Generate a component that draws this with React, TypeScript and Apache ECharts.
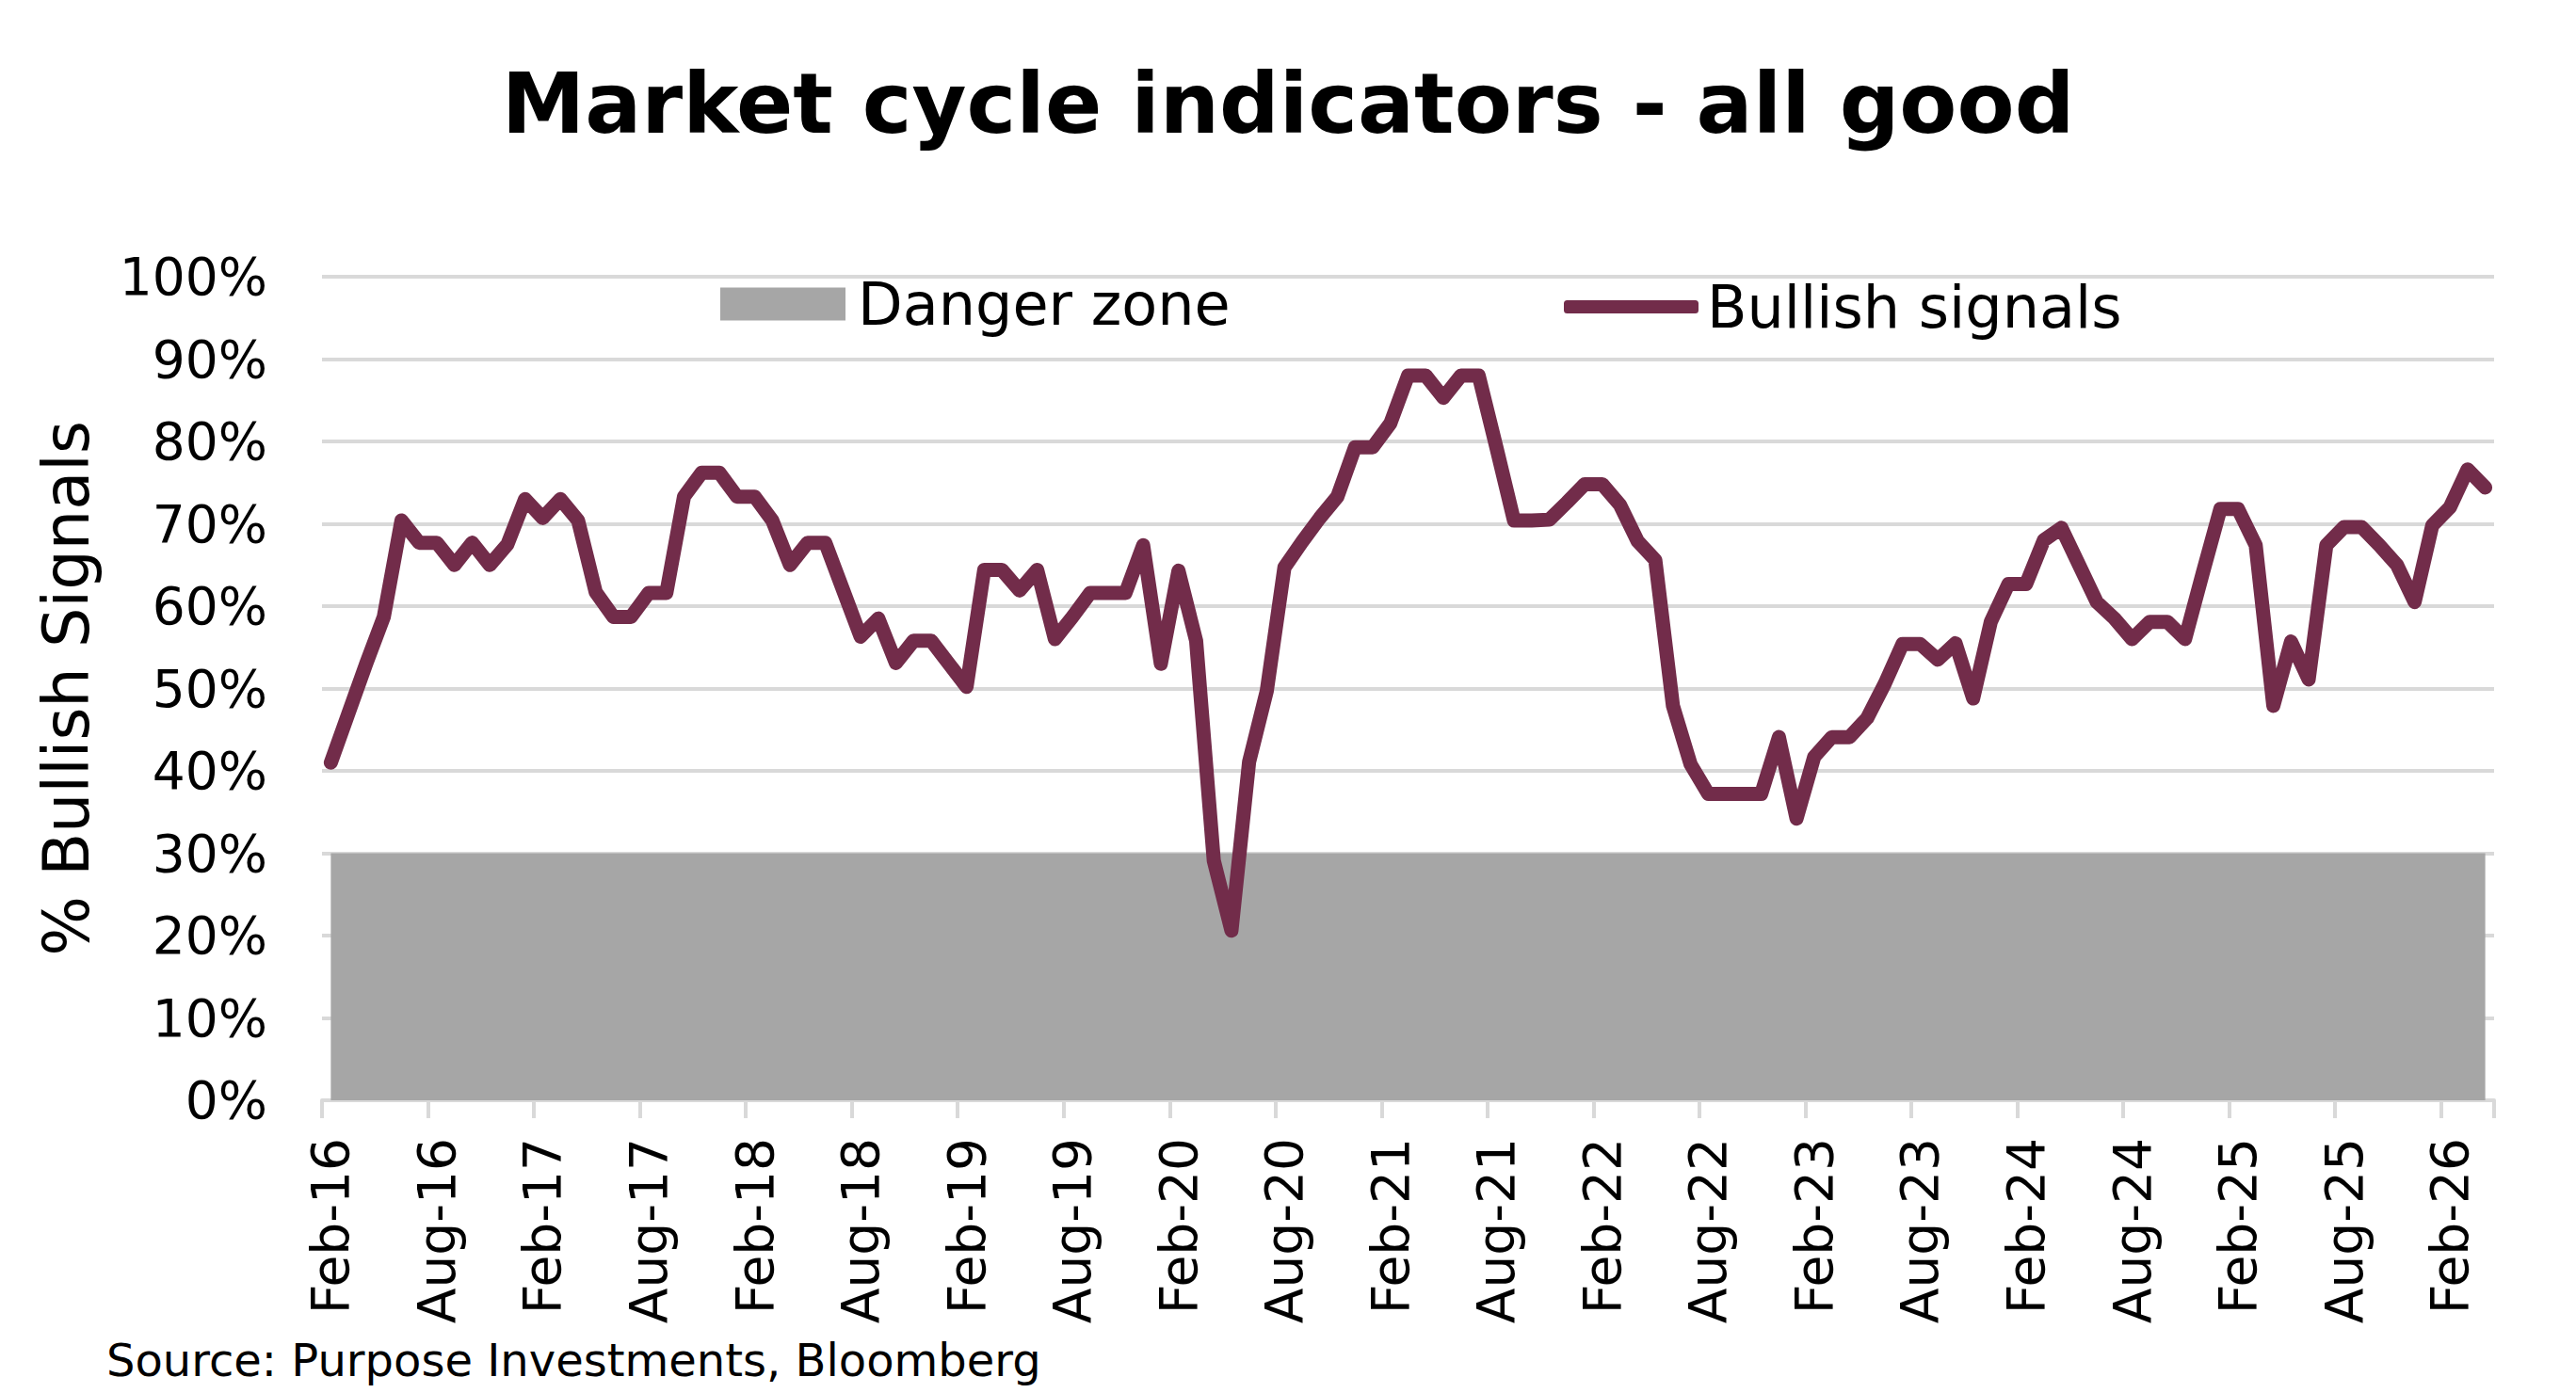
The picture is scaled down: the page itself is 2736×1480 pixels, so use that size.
import React, { useEffect, useRef } from "react";
import * as echarts from "echarts";

const TITLE = "Market cycle indicators - all good";
const SOURCE = "Source: Purpose Investments, Bloomberg";
const Y_NAME = "% Bullish Signals";
const SERIES_DANGER = "Danger zone";
const SERIES_BULL = "Bullish signals";

const MONTH_NAMES = ["Jan", "Feb", "Mar", "Apr", "May", "Jun", "Jul", "Aug", "Sep", "Oct", "Nov", "Dec"];
const START_YEAR = 2016;
const START_MONTH = 1; // Feb
const MONTH_COUNT = 123; // Feb-16 .. Apr-26

const DANGER_LEVEL = 30;

const BULLISH = [
  41, 47, 53, 58.7, 70.4, 67.7, 67.7, 65, 67.7, 65, 67.5, 73, 70.7, 73, 70.4, 61.7,
  58.7, 58.7, 61.6, 61.6, 73.3, 76.2, 76.2, 73.3, 73.3, 70.4, 65, 67.7, 67.7, 62, 56.3,
  58.5, 53.1, 55.8, 55.8, 53, 50.2, 64.4, 64.4, 61.9, 64.4, 56, 58.7, 61.6, 61.6, 61.6,
  67.4, 53, 64.3, 55.8, 29.1, 20.6, 41.1, 49.7, 64.7, 67.8, 70.7, 73.3, 79.3, 79.3, 82.2,
  88, 88, 85.3, 88, 88, 79.3, 70.4, 70.4, 70.5, 72.6, 74.8, 74.8, 72.3, 67.9, 65.6, 47.9,
  40.8, 37.2, 37.2, 37.2, 37.2, 44.1, 34.2, 41.7, 44.1, 44.1, 46.4, 50.6, 55.4, 55.4, 53.5,
  55.5, 48.8, 58.1, 62.7, 62.7, 68, 69.5, 65, 60.5, 58.5, 56, 58.1, 58.1, 56, 64, 71.8,
  71.8, 67.4, 47.9, 55.7, 51.1, 67.4, 69.6, 69.6, 67.4, 65, 60.5, 69.8, 72, 76.6, 74.4,
];

const CATEGORIES: string[] = [];
for (let i = 0; i < MONTH_COUNT; i++) {
  const m = (START_MONTH + i) % 12;
  const y = START_YEAR + Math.floor((START_MONTH + i) / 12);
  CATEGORIES.push(MONTH_NAMES[m] + "-" + String(y % 100).padStart(2, "0"));
}
const DANGER = CATEGORIES.map(() => DANGER_LEVEL);

const FONT = "DejaVu Sans";
const LINE_COLOR = "#722c4a";
const ZONE_COLOR = "#a6a6a6";
const GRID_COLOR = "#d9d9d9";

export default function App() {
  const ref = useRef<HTMLDivElement>(null);
  useEffect(() => {
    document.body.style.margin = "0";
    if (!ref.current) return;
    const chart = echarts.init(ref.current, null, { renderer: "svg" });
    chart.setOption({
      animation: false,
      backgroundColor: "#ffffff",
      textStyle: { fontFamily: FONT },
      grid: { left: 342, top: 294, width: 2307, height: 875, containLabel: false },
      graphic: [
        {
          type: "text",
          x: 1368,
          y: 110,
          style: {
            text: TITLE,
            fontFamily: FONT,
            fontWeight: "bold",
            fontSize: 89,
            fill: "#000",
            textAlign: "center",
            textVerticalAlign: "middle",
          },
        },
        {
          type: "text",
          x: 113,
          y: 1445,
          style: {
            text: SOURCE,
            fontFamily: FONT,
            fontSize: 48,
            fill: "#000",
            textAlign: "left",
            textVerticalAlign: "middle",
          },
        },
      ],
      legend: [
        {
          data: [{ name: SERIES_DANGER, icon: "rect" }],
          left: 760,
          top: 287,
          itemWidth: 133,
          itemHeight: 35,
          textStyle: { fontFamily: FONT, fontSize: 62, color: "#000", lineHeight: 35, padding: [0, 0, 0, 8] },
        },
        {
          data: [{ name: SERIES_BULL, icon: "roundRect" }],
          left: 1656,
          top: 290,
          itemWidth: 143,
          itemHeight: 14,
          textStyle: { fontFamily: FONT, fontSize: 62, color: "#000", lineHeight: 14, padding: [0, 0, 0, 4] },
        },
      ],
      xAxis: {
        type: "category",
        data: CATEGORIES,
        boundaryGap: true,
        axisLine: { show: true, lineStyle: { color: GRID_COLOR, width: 4 } },
        axisTick: { show: true, interval: 5, length: 19, lineStyle: { color: GRID_COLOR, width: 4 } },
        axisLabel: {
          interval: 5,
          rotate: 90,
          margin: 40,
          fontFamily: FONT,
          fontSize: 55,
          color: "#000",
        },
        splitLine: { show: false },
      },
      yAxis: {
        type: "value",
        min: 0,
        max: 100,
        interval: 10,
        name: Y_NAME,
        nameLocation: "middle",
        nameRotate: 90,
        nameGap: 238,
        nameTextStyle: { fontFamily: FONT, fontSize: 67, color: "#000" },
        axisLine: { show: false },
        axisTick: { show: false },
        axisLabel: { formatter: "{value}%", margin: 58, fontFamily: FONT, fontSize: 55, color: "#000" },
        splitLine: { show: true, lineStyle: { color: GRID_COLOR, width: 4 } },
      },
      series: [
        {
          name: SERIES_DANGER,
          type: "line",
          data: DANGER,
          symbol: "none",
          showSymbol: false,
          itemStyle: { color: ZONE_COLOR },
          lineStyle: { width: 0, color: ZONE_COLOR },
          areaStyle: { color: ZONE_COLOR, opacity: 1 },
          z: 1,
        },
        {
          name: SERIES_BULL,
          type: "line",
          data: BULLISH,
          symbol: "none",
          showSymbol: false,
          itemStyle: { color: LINE_COLOR },
          lineStyle: { width: 15, color: LINE_COLOR, cap: "round", join: "round" },
          z: 3,
        },
      ],
    });
    return () => chart.dispose();
  }, []);
  return <div ref={ref} style={{ width: 2736, height: 1480 }} />;
}
